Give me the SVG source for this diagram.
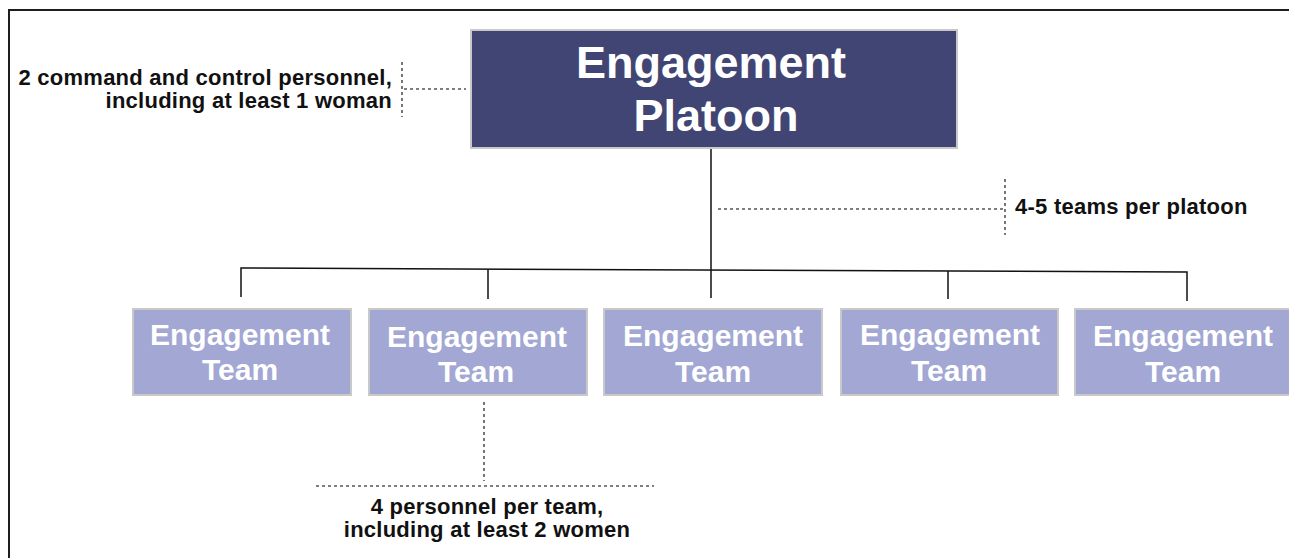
<svg xmlns="http://www.w3.org/2000/svg" width="1289" height="558" viewBox="0 0 1289 558">
<style>
.frame{fill:none;stroke:#1e1e1e;stroke-width:2}
.platoon{fill:#414573;stroke:#c9c9c9;stroke-width:2}
.team{fill:#a2a7d3;stroke:#c9c9c9;stroke-width:2}
.wt{font-family:"Liberation Sans",Arial,sans-serif;font-weight:bold;fill:#ffffff;text-anchor:middle}
.ann{font-family:"Liberation Sans",Arial,sans-serif;font-weight:bold;fill:#111111;font-size:22px;letter-spacing:0.25px}
.conn{fill:none;stroke:#111111;stroke-width:1.5}
.dot{fill:none;stroke:#555555;stroke-width:1.6;stroke-dasharray:3 3}
</style>
<rect width="1289" height="558" fill="#ffffff"/>
<path class="frame" d="M9,558 V10 H1289"/>
<g id="connectors">
<path class="conn" d="M711,148 V298"/>
<path class="conn" d="M241,297 V268 L1187,272 V301"/>
<path class="conn" d="M488,269 V299"/>
<path class="conn" d="M948,271 V299"/>
</g>
<g id="annotations">
<path class="dot" d="M402,62 V117"/>
<path class="dot" d="M404,89 H466"/>
<path class="dot" d="M718,209 H1003"/>
<path class="dot" d="M1005,179 V235"/>
<path class="dot" d="M484,402 V481"/>
<path class="dot" d="M316,486 H654"/>
<text class="ann" x="392" y="85" text-anchor="end">2 command and control personnel,</text>
<text class="ann" x="392" y="108" text-anchor="end">including at least 1 woman</text>
<text class="ann" x="1015" y="214">4-5 teams per platoon</text>
<text class="ann" x="487" y="514" text-anchor="middle">4 personnel per team,</text>
<text class="ann" x="487" y="537" text-anchor="middle">including at least 2 women</text>
</g>
<g id="platoon">
<rect class="platoon" x="471" y="30" width="486" height="118"/>
<text class="wt" x="711" y="78" font-size="45">Engagement</text>
<text class="wt" x="716" y="131" font-size="45">Platoon</text>
</g>
<g id="team1">
<rect class="team" x="133" y="309" width="218" height="86"/>
<text class="wt" x="240" y="345" font-size="30">Engagement</text>
<text class="wt" x="240" y="380" font-size="30">Team</text>
</g>
<g id="team2">
<rect class="team" x="369" y="309" width="218" height="86"/>
<text class="wt" x="477" y="347" font-size="30">Engagement</text>
<text class="wt" x="476" y="382" font-size="30">Team</text>
</g>
<g id="team3">
<rect class="team" x="604" y="309" width="218" height="86"/>
<text class="wt" x="713" y="346" font-size="30">Engagement</text>
<text class="wt" x="713" y="382" font-size="30">Team</text>
</g>
<g id="team4">
<rect class="team" x="841" y="309" width="217" height="86"/>
<text class="wt" x="950" y="345" font-size="30">Engagement</text>
<text class="wt" x="949" y="381" font-size="30">Team</text>
</g>
<g id="team5">
<rect class="team" x="1075" y="309" width="220" height="86"/>
<text class="wt" x="1183" y="346" font-size="30">Engagement</text>
<text class="wt" x="1183" y="382" font-size="30">Team</text>
</g>
</svg>
